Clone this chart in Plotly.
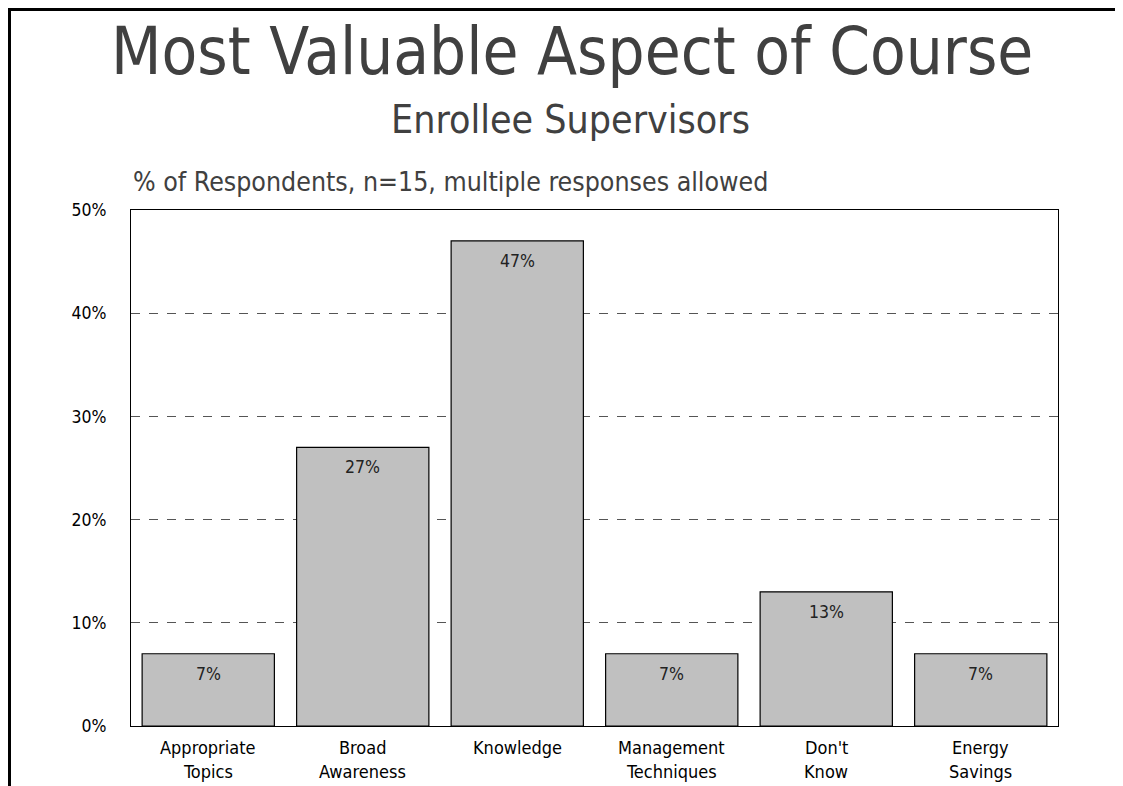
import plotly.graph_objects as go

categories = ["Appropriate Topics", "Broad Awareness", "Knowledge",
              "Management Techniques", "Don't Know", "Energy Savings"]
label_line1 = ["Appropriate", "Broad", "Knowledge", "Management", "Don't", "Energy"]
label_line2 = ["Topics", "Awareness", "", "Techniques", "Know", "Savings"]
values = [7, 27, 47, 7, 13, 7]
labels = ["7%", "27%", "47%", "7%", "13%", "7%"]
y_ticks = [0, 10, 20, 30, 40, 50]
y_tick_text = ["0%", "10%", "20%", "30%", "40%", "50%"]

FONT = "DejaVu Sans Condensed, DejaVu Sans"

W, H = 1123, 786
L, T, R, B = 123, 202, 73, 68
PW, PH = W - L - R, H - T - B


def px(x):
    return (x - L) / PW


def py(y):
    return 1 - (y - T) / PH


fig = go.Figure()
fig.add_trace(go.Bar(
    x=categories, y=values,
    marker=dict(color="#C0C0C0", line=dict(color="black", width=1.2)),
    width=0.856,
    hoverinfo="skip",
))

for c, v, t in zip(categories, values, labels):
    fig.add_annotation(x=c, y=v, text=t, showarrow=False, yshift=-20,
                       font=dict(family=FONT, size=17.5, color="#222222"))

for c, l1, l2 in zip(categories, label_line1, label_line2):
    fig.add_annotation(x=c, yref="paper", y=py(752), text=l1, showarrow=False,
                       font=dict(family=FONT, size=18, color="black"))
    if l2:
        fig.add_annotation(x=c, yref="paper", y=py(776), text=l2, showarrow=False,
                           font=dict(family=FONT, size=18, color="black"))

fig.update_layout(
    width=W, height=H,
    margin=dict(l=L, r=R, t=T, b=B),
    paper_bgcolor="white", plot_bgcolor="white",
    showlegend=False,
    font=dict(family=FONT, color="black", size=17),
    bargap=0.144,
)
fig.update_xaxes(
    showline=True, linecolor="black", linewidth=1.2, mirror=True,
    ticks="", showticklabels=False,
    showgrid=False,
)
fig.update_yaxes(
    range=[0, 50], tickvals=y_ticks, ticktext=y_tick_text,
    showline=True, linecolor="black", linewidth=1.2, mirror=True,
    ticks="", ticklabelstandoff=20,
    tickfont=dict(family=FONT, size=17.5, color="black"),
    showgrid=True, gridcolor="#555555", griddash="dash", gridwidth=1,
    zeroline=False,
)

fig.add_annotation(xref="paper", yref="paper", x=px(564), y=py(44), yanchor="middle",
                   text="Most Valuable Aspect of Course", showarrow=False,
                   font=dict(family=FONT, size=65, color="#404040"))
fig.add_annotation(xref="paper", yref="paper", x=px(562), y=py(112), yanchor="middle",
                   text="Enrollee Supervisors", showarrow=False,
                   font=dict(family=FONT, size=39, color="#404040"))
fig.add_annotation(xref="paper", yref="paper", x=px(123), y=py(174), yanchor="middle",
                   xanchor="left", text="% of Respondents, n=15, multiple responses allowed",
                   showarrow=False,
                   font=dict(family=FONT, size=26.5, color="#404040"))

# figure border
fig.add_shape(type="rect", xref="paper", yref="paper",
              x0=px(1.5), x1=px(1113), y0=py(H + 20), y1=py(1.5),
              line=dict(color="black", width=3), fillcolor="rgba(0,0,0,0)", layer="above")

fig.write_html("out.html")
